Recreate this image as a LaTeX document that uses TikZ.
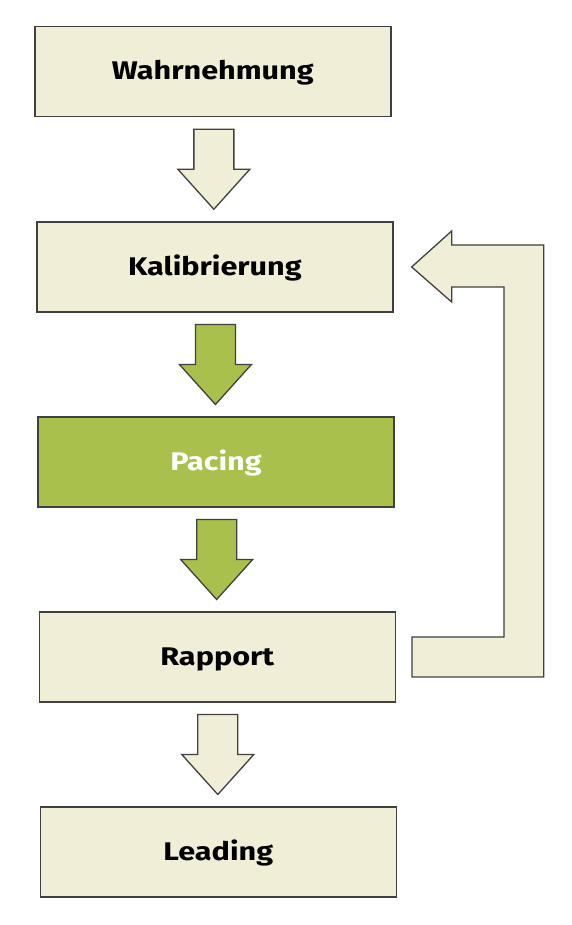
\documentclass[tikz,border=0pt]{standalone}
\usepackage{fontspec}
\setmainfont{Fira Sans}[FakeStretch=1.2]
\usetikzlibrary{calc}

\definecolor{cream}{HTML}{F0EED6}
\definecolor{leaf}{HTML}{A9C04C}
\definecolor{rim}{HTML}{404040}

% block arrow between two boxes
\newcommand{\blockdown}[3]{%
  \coordinate (m) at ($(#1.south)!0.5!(#2.north)$);
  \draw[blk,fill=#3] ($(m)+(-20,40)$) -- ($(m)+(20,40)$) -- ($(m)+(20,0)$)
    -- ($(m)+(36,0)$) -- ($(m)+(0,-40)$) -- ($(m)+(-36,0)$)
    -- ($(m)+(-20,0)$) -- cycle;}

\begin{document}
\begin{tikzpicture}[x=1pt,y=1pt,
    box/.style={draw=rim,line width=1.5pt,fill=cream,minimum width=356pt,
      minimum height=90pt,inner sep=0pt,text height=17pt,text depth=0pt,
      font=\fontsize{25.5}{28}\selectfont\bfseries},
    blk/.style={draw=rim,line width=1.3pt,line join=miter}]

  \useasboundingbox (0,0) rectangle (571,925);

  \node[box] (W) at (212.8,853.5) {Wahrnehmung};
  \node[box] (K) at (214.9,658) {Kalibrierung};
  \node[box,fill=leaf,text=white] (P) at (216,463) {Pacing};
  \node[box] (R) at (217.3,268) {Rapport};
  \node[box] (L) at (218.3,73) {Leading};

  \blockdown{W}{K}{cream}
  \blockdown{K}{P}{leaf}
  \blockdown{P}{R}{leaf}
  \blockdown{R}{L}{cream}

  % feedback from Rapport to Kalibrierung
  \draw[blk,fill=cream] ($(R.east)+(16,20)$) -- ++(92,0) |- ($(K.east)+(58,-20)$)
    -- ++(0,-15) -- ($(K.east)+(18,0)$) -- ++(40,36) -- ++(0,-14)
    -- ++(92,0) |- ($(R.east)+(16,-20)$) -- cycle;

\end{tikzpicture}
\end{document}
